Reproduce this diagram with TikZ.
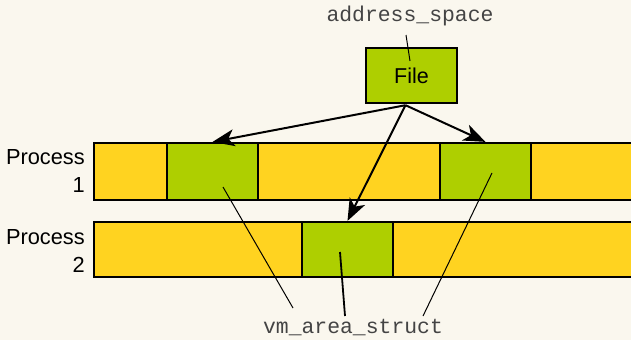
\documentclass[tikz,border=0pt]{standalone}
\usepackage{fontspec}
\setmainfont{Liberation Sans}
\setmonofont{Liberation Mono}
\usetikzlibrary{arrows.meta,calc}
\definecolor{bgcream}{HTML}{FAF7EE}
\definecolor{baryellow}{HTML}{FFD320}
\definecolor{areagreen}{HTML}{AECF00}
\definecolor{labelgray}{HTML}{444444}
\tikzset{
  bar/.style={draw=black, line width=2.2pt, fill=baryellow},
  area/.style={draw=black, line width=2.2pt, fill=areagreen, inner sep=0pt,
    minimum width=91pt, minimum height=57pt},
  filebox/.style={draw=black, line width=2.4pt, fill=areagreen, inner sep=0pt,
    minimum width=91pt, minimum height=55pt, font=\fontsize{21.5}{24}\selectfont},
  maparrow/.style={line width=2pt, -{Stealth[length=22pt,width=17pt,inset=6pt]}},
  pointer/.style={line width=1pt},
  proclabel/.style={align=right, anchor=east, inner sep=0pt,
    font=\fontsize{21.8}{28}\selectfont},
  structlabel/.style={inner sep=0pt, text=labelgray,
    font=\ttfamily\fontsize{21.4}{24}\selectfont}
}
\begin{document}
\begin{tikzpicture}[x=1pt,y=-1pt]
  \fill[bgcream] (0,0) rectangle (631,340);
  \useasboundingbox (0,0) rectangle (631,340);
  \clip (0,0) rectangle (631,340);

  % process address ranges (they run on past the right edge)
  \draw[bar] (94,143) rectangle (650,200);
  \draw[bar] (94,222) rectangle (650,277);

  % mapped regions
  \node[area] (p1a) at (212.5,171.5) {};
  \node[area] (p1b) at (485.5,171.5) {};
  \node[area, minimum height=55pt] (p2a) at (347.5,249.5) {};

  % labels
  \node[proclabel] (proc1) at (85,171) {Process\\1};
  \node[proclabel] (proc2) at (85,251) {Process\\2};

  \node[filebox] (file) at (411.5,75.5) {File};
  \node[structlabel] (aspace) at (410,16) {address\_space};
  \node[structlabel] (vma) at (353,328) {vm\_area\_struct};

  % file mapped into each region
  \coordinate (src) at ($(file.south)+(-6,1)$);
  \draw[maparrow] (src) -- (p1a.north);
  \draw[maparrow] (src) -- (p2a.north);
  \draw[maparrow] (src) -- (p1b.north);

  % pointers from the structure names
  \coordinate (asEnd) at (410,61);
  \draw[pointer] (406,35) -- (asEnd);
  \coordinate (vmA) at (293,308);
  \coordinate (vmB) at (345,316);
  \coordinate (vmC) at (423,316);
  \draw[pointer] (vmA) -- (223,187);
  \draw[pointer, line width=1.8pt] (vmB) -- (340,252);
  \draw[pointer] (vmC) -- (492,173);
\end{tikzpicture}
\end{document}
